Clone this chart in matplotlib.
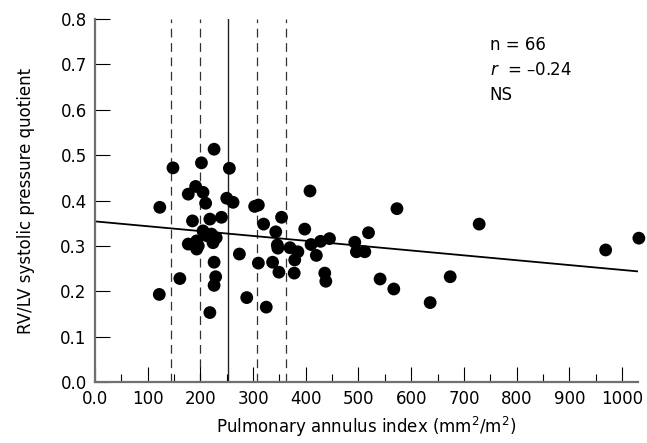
import numpy as np
import matplotlib
matplotlib.use("Agg")
import matplotlib.pyplot as plt

# pulmonary annulus index (mm2/m2) and RV/LV pressure quotient
annulus_index = [122, 123, 148, 161, 177, 177, 185, 191, 193, 193,
                 196, 202, 205, 205, 210, 213, 218, 218, 221, 224,
                 226, 226, 226, 229, 230, 240, 250, 255, 262, 274,
                 288, 303, 310, 310, 320, 325, 337, 343, 346, 347,
                 349, 354, 370, 378, 379, 385, 398, 408, 410, 420,
                 428, 436, 438, 445, 493, 496, 512, 519, 541, 567,
                 573, 636, 674, 729, 969, 1032]
pressure_quotient = [0.193, 0.385, 0.472, 0.228, 0.414, 0.304, 0.355, 0.431, 0.311, 0.293,
                     0.300, 0.483, 0.418, 0.333, 0.394, 0.322, 0.359, 0.153, 0.326, 0.307,
                     0.513, 0.264, 0.213, 0.232, 0.318, 0.363, 0.405, 0.471, 0.396, 0.282,
                     0.186, 0.387, 0.390, 0.262, 0.348, 0.165, 0.264, 0.331, 0.302, 0.295,
                     0.242, 0.363, 0.296, 0.240, 0.269, 0.287, 0.337, 0.421, 0.303, 0.279,
                     0.310, 0.240, 0.222, 0.316, 0.308, 0.287, 0.287, 0.329, 0.227, 0.205,
                     0.382, 0.175, 0.232, 0.348, 0.291, 0.317]

# regression line as drawn in the figure
fit_intercept = 0.354
fit_slope = -0.000107
fit_range = [0, 1030]

# reference lines
dashed_lines = [144, 200, 307, 363]
solid_line = 253

stats_lines = ["n = 66", "$\\it{r}$  = \u20130.24", "NS"]

plt.rcParams['font.family'] = ['DejaVu Sans']
plt.rcParams['mathtext.default'] = 'regular'

fig = plt.figure(figsize=(6.47, 4.43), dpi=100)
ax = fig.add_axes([0.1468, 0.1377, 0.839, 0.8194])

for xv in dashed_lines:
    ax.plot([xv, xv], [0, 0.8], color='#333333', lw=0.9, linestyle=(0, (7, 4.5)), zorder=1)
ax.plot([solid_line, solid_line], [0, 0.8], color='#222222', lw=1.0, zorder=1)

fx = np.array(fit_range)
ax.plot(fx, fit_intercept + fit_slope * fx, color='black', lw=1.3, zorder=2)

ax.scatter(annulus_index, pressure_quotient, s=85, color='black', edgecolors='none',
           zorder=3, clip_on=False)

ax.set_xlim(0, 1030)
ax.set_ylim(0, 0.8)
ax.set_xticks(np.arange(0, 1001, 100))
ax.set_xticklabels(['0.0'] + [str(v) for v in range(100, 1001, 100)])
ax.set_xticks(np.arange(50, 1001, 100), minor=True)
ax.set_yticks(np.arange(0, 0.81, 0.1))
ax.set_yticklabels(['%.1f' % v for v in np.arange(0, 0.81, 0.1)])

ax.tick_params(axis='both', which='major', direction='in', length=10.5, width=0.8,
               color='black', labelsize=12)
ax.tick_params(axis='x', which='minor', direction='in', length=5.5, width=0.8, color='black')
ax.tick_params(axis='x', pad=6)
ax.tick_params(axis='y', pad=6)

for side in ['top', 'right']:
    ax.spines[side].set_visible(False)
for side in ['left', 'bottom']:
    ax.spines[side].set_color('#707070')
    ax.spines[side].set_linewidth(1.6)

ax.set_xlabel("Pulmonary annulus index (mm$^2$/m$^2$)", fontsize=12, labelpad=5)
ax.set_ylabel("RV/LV systolic pressure quotient", fontsize=12, labelpad=18)

for i, line in enumerate(stats_lines):
    ax.text(749, 0.743 - i * 0.055, line, fontsize=12, ha='left', va='center')

fig.savefig("out.png", dpi=100)
